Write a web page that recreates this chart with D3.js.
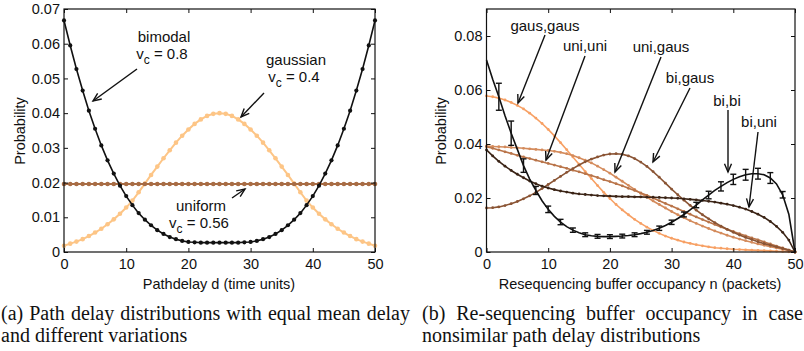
<!DOCTYPE html>
<html>
<head>
<meta charset="utf-8">
<script src="https://cdn.jsdelivr.net/npm/d3@7"></script>
<style>
body { margin: 0; background: #fff; }
svg text { font-family: "Liberation Sans", Arial, sans-serif; fill: #111; }
svg text.caption { font-family: "Liberation Serif", "Times New Roman", serif; }
</style>
</head>
<body>
<svg id="chart" width="804" height="351"></svg>
<script>
// ---- data, panel (a): path delay distributions ----
const delays = d3.range(0, 51);
const xTicksA = [0, 10, 20, 30, 40, 50];
const yTicksA = [0, 0.01, 0.02, 0.03, 0.04, 0.05, 0.06, 0.07];

const bimodal = [0.0667,0.0595,0.0527,0.0465,0.0407,0.0355,0.0307,0.0264,0.0226,0.0191,
	0.0161,0.0135,0.0112,0.0093,0.0077,0.0063,0.0052,0.0043,0.0037,0.0032,
	0.0029,0.0028,0.0027,0.0027,0.0027,0.0027,0.0027,0.0027,0.0027,0.0028,
	0.0029,0.0032,0.0037,0.0043,0.0052,0.0063,0.0077,0.0093,0.0112,0.0135,
	0.0161,0.0191,0.0226,0.0264,0.0307,0.0355,0.0407,0.0465,0.0527,0.0595,0.0667];
const gaussian = [0.0018,0.0024,0.0030,0.0037,0.0046,0.0056,0.0067,0.0080,0.0094,0.0110,
	0.0128,0.0148,0.0172,0.0197,0.0222,0.0246,0.0270,0.0293,0.0315,0.0335,
	0.0353,0.0369,0.0382,0.0392,0.0398,0.0400,0.0398,0.0392,0.0382,0.0369,
	0.0353,0.0335,0.0315,0.0293,0.0270,0.0246,0.0222,0.0197,0.0172,0.0148,
	0.0128,0.0110,0.0094,0.0080,0.0067,0.0056,0.0046,0.0037,0.0030,0.0024,0.0018];
const uniform = [0.0196,0.0196,0.0196,0.0196,0.0196,0.0196,0.0196,0.0196,0.0196,0.0196,
	0.0196,0.0196,0.0196,0.0196,0.0196,0.0196,0.0196,0.0196,0.0196,0.0196,
	0.0196,0.0196,0.0196,0.0196,0.0196,0.0196,0.0196,0.0196,0.0196,0.0196,
	0.0196,0.0196,0.0196,0.0196,0.0196,0.0196,0.0196,0.0196,0.0196,0.0196,
	0.0196,0.0196,0.0196,0.0196,0.0196,0.0196,0.0196,0.0196,0.0196,0.0196,0.0196];

// ---- data, panel (b): resequencing buffer occupancy ----
const occupancy = d3.range(0, 51);
const xTicksB = [0, 10, 20, 30, 40, 50];
const yTicksB = [0, 0.02, 0.04, 0.06, 0.08];

const gausGaus = [0.0578,0.0575,0.0570,0.0563,0.0554,0.0543,0.0530,0.0514,0.0496,0.0476,
	0.0454,0.0430,0.0405,0.0379,0.0352,0.0325,0.0298,0.0272,0.0246,0.0221,
	0.0198,0.0176,0.0156,0.0138,0.0121,0.0106,0.0092,0.0080,0.0069,0.0059,
	0.0051,0.0044,0.0037,0.0032,0.0027,0.0023,0.0019,0.0016,0.0014,0.0012,
	0.0010,0.0009,0.0008,0.0007,0.0006,0.0005,0.0004,0.0003,0.0002,0.0001,0];
const uniGaus = [0.0392,0.0391,0.0390,0.0389,0.0387,0.0386,0.0384,0.0382,0.0380,0.0378,
	0.0376,0.0373,0.0369,0.0364,0.0357,0.0349,0.0340,0.0330,0.0318,0.0305,
	0.0292,0.0277,0.0262,0.0247,0.0232,0.0217,0.0203,0.0189,0.0176,0.0163,
	0.0150,0.0138,0.0127,0.0116,0.0106,0.0096,0.0087,0.0078,0.0070,0.0062,
	0.0055,0.0048,0.0042,0.0036,0.0030,0.0025,0.0020,0.0015,0.0010,0.0005,0];
const uniUni = [0.0390,0.0384,0.0378,0.0371,0.0365,0.0358,0.0352,0.0346,0.0340,0.0334,
	0.0328,0.0322,0.0316,0.0310,0.0303,0.0297,0.0290,0.0283,0.0276,0.0268,
	0.0261,0.0253,0.0245,0.0236,0.0228,0.0219,0.0210,0.0200,0.0190,0.0180,
	0.0170,0.0160,0.0150,0.0140,0.0130,0.0120,0.0111,0.0102,0.0093,0.0084,
	0.0076,0.0068,0.0060,0.0052,0.0045,0.0037,0.0030,0.0022,0.0015,0.0007,0];
const biGaus = [0.0163,0.0164,0.0167,0.0172,0.0179,0.0187,0.0197,0.0208,0.0221,0.0235,
	0.0250,0.0265,0.0280,0.0295,0.0309,0.0322,0.0334,0.0344,0.0352,0.0359,
	0.0363,0.0364,0.0362,0.0356,0.0346,0.0333,0.0317,0.0298,0.0277,0.0255,
	0.0233,0.0212,0.0192,0.0173,0.0155,0.0138,0.0123,0.0109,0.0096,0.0084,
	0.0073,0.0063,0.0054,0.0046,0.0038,0.0031,0.0025,0.0019,0.0013,0.0007,0];
const biUni = [0.0378,0.0356,0.0336,0.0318,0.0302,0.0288,0.0275,0.0263,0.0253,0.0244,
	0.0237,0.0231,0.0226,0.0222,0.0218,0.0215,0.0213,0.0211,0.0209,0.0208,
	0.0207,0.0206,0.0205,0.0205,0.0204,0.0204,0.0203,0.0203,0.0202,0.0201,
	0.0200,0.0199,0.0197,0.0195,0.0193,0.0191,0.0188,0.0185,0.0181,0.0177,
	0.0172,0.0166,0.0159,0.0150,0.0140,0.0128,0.0113,0.0095,0.0073,0.0044,0];
const biBi = [0.0711,0.0640,0.0575,0.0505,0.0440,0.0380,0.0320,0.0270,0.0228,0.0190,
	0.0158,0.0132,0.0111,0.0094,0.0081,0.0071,0.0064,0.0060,0.0058,0.0057,
	0.0057,0.0058,0.0059,0.0061,0.0064,0.0068,0.0073,0.0080,0.0088,0.0098,
	0.0110,0.0124,0.0139,0.0156,0.0174,0.0193,0.0211,0.0228,0.0243,0.0257,
	0.0269,0.0279,0.0286,0.0290,0.0290,0.0286,0.0274,0.0252,0.0212,0.0140,0];
// simulated bi,bi points with error bar half-widths
const biBiSimN = [2,4,6,8,10,12,14,16,18,20,22,24,26,28,30,32,34,36,38,40,42,44,46,48];
const biBiSimMean = [0.0575,0.0440,0.0320,0.0228,0.0158,0.0111,0.0081,0.0064,0.0058,0.0057,
	0.0059,0.0064,0.0073,0.0088,0.0110,0.0139,0.0174,0.0211,0.0243,0.0269,0.0286,0.0290,0.0274,0.0212];
const biBiSimErr = [0.0050,0.0045,0.0025,0.0015,0.0012,0.0010,0.0008,0.0007,0.0007,0.0007,
	0.0007,0.0007,0.0007,0.0008,0.0008,0.0009,0.0010,0.0014,0.0017,0.0019,0.0020,0.0020,0.0020,0.0012];

const svg = d3.select("#chart");

function drawFrame(g, x, y, xTicks, yTicks) {
	const fmt = (d) => (d === 0 ? "0" : d.toFixed(2));
	const [x0, x1] = x.range();
	const [y0, y1] = y.range();

	g.append("g")
		.attr("transform", `translate(0,${y0})`)
		.call(d3.axisBottom(x).tickValues(xTicks).tickSizeInner(-4).tickSizeOuter(0).tickPadding(7))
		.call((a) => a.select(".domain").remove());
	g.append("g")
		.attr("transform", `translate(0,${y1})`)
		.call(d3.axisTop(x).tickValues(xTicks).tickSizeInner(-4).tickSizeOuter(0).tickFormat(""))
		.call((a) => a.select(".domain").remove());
	g.append("g")
		.attr("transform", `translate(${x0},0)`)
		.call(d3.axisLeft(y).tickValues(yTicks).tickSizeInner(-4).tickSizeOuter(0).tickPadding(4).tickFormat(fmt))
		.call((a) => a.select(".domain").remove());
	g.append("g")
		.attr("transform", `translate(${x1},0)`)
		.call(d3.axisRight(y).tickValues(yTicks).tickSizeInner(-4).tickSizeOuter(0).tickFormat(""))
		.call((a) => a.select(".domain").remove());

	g.selectAll(".tick line").attr("stroke", "#111").attr("stroke-width", 1);
	g.selectAll(".tick text")
		.attr("fill", "#111")
		.style("font-family", '"Liberation Sans", Arial, sans-serif')
		.style("font-size", "14.5px");

	g.append("rect")
		.attr("x", x0).attr("y", y1)
		.attr("width", x1 - x0).attr("height", y0 - y1)
		.attr("fill", "none").attr("stroke", "#111").attr("stroke-width", 1.2);
}

function drawSeries(g, x, y, xs, values, color, width, r) {
	const line = d3.line().x((d, i) => x(xs[i])).y((d) => y(d));
	g.append("path")
		.datum(values)
		.attr("d", line)
		.attr("fill", "none")
		.attr("stroke", color)
		.attr("stroke-width", width);
	if (r > 0) {
		g.append("g")
			.selectAll("circle")
			.data(values)
			.join("circle")
			.attr("cx", (d, i) => x(xs[i]))
			.attr("cy", (d) => y(d))
			.attr("r", r)
			.attr("fill", color);
	}
}

function arrow(g, x1, y1, x2, y2) {
	const ang = Math.atan2(y2 - y1, x2 - x1);
	const len = 9;
	const spread = 0.4;
	g.append("line")
		.attr("x1", x1).attr("y1", y1).attr("x2", x2).attr("y2", y2)
		.attr("stroke", "#111").attr("stroke-width", 1.4);
	g.append("path")
		.attr("d", `M${x2 - len * Math.cos(ang - spread)},${y2 - len * Math.sin(ang - spread)}` +
			`L${x2},${y2}L${x2 - len * Math.cos(ang + spread)},${y2 - len * Math.sin(ang + spread)}`)
		.attr("fill", "none").attr("stroke", "#111").attr("stroke-width", 1.4);
}

function label(g, x, y, text) {
	g.append("text")
		.attr("x", x).attr("y", y)
		.attr("text-anchor", "middle")
		.style("font-size", "15px")
		.text(text);
}

// v_c = value, with subscript c
function vcLabel(g, x, y, value) {
	const t = g.append("text")
		.attr("x", x).attr("y", y)
		.attr("text-anchor", "middle")
		.style("font-size", "15px");
	t.append("tspan").text("v");
	t.append("tspan").attr("dy", 5).style("font-size", "12px").text("c");
	t.append("tspan").attr("dy", -5).text(` = ${value}`);
}

// ---------------- panel (a) ----------------
const gA = svg.append("g");
const xA = d3.scaleLinear().domain([0, 50]).range([64, 375]);
const yA = d3.scaleLinear().domain([0, 0.07]).range([252, 9]);

drawSeries(gA, xA, yA, delays, gaussian, "#fdc586", 2, 2.3);
drawSeries(gA, xA, yA, delays, uniform, "#a86c44", 2, 2.3);
drawSeries(gA, xA, yA, delays, bimodal, "#111", 1.6, 2.1);
drawFrame(gA, xA, yA, xTicksA, yTicksA);

label(gA, 164, 42, "bimodal");
vcLabel(gA, 162, 59, "0.8");
arrow(gA, 137, 69, 93, 101);
label(gA, 296, 65, "gaussian");
vcLabel(gA, 294, 82, "0.4");
arrow(gA, 264, 93, 241, 117);
label(gA, 201, 211, "uniform");
vcLabel(gA, 199, 228, "0.56");
arrow(gA, 232, 198, 245, 189);

gA.append("text")
	.attr("transform", "translate(25,131) rotate(-90)")
	.attr("text-anchor", "middle")
	.style("font-size", "14.5px")
	.text("Probability");
gA.append("text")
	.attr("x", 219).attr("y", 289)
	.attr("text-anchor", "middle")
	.style("font-size", "14.5px")
	.text("Pathdelay d (time units)");

// ---------------- panel (b) ----------------
const gB = svg.append("g");
const xB = d3.scaleLinear().domain([0, 50]).range([486.5, 795]);
const yB = d3.scaleLinear().domain([0, 0.09]).range([252, 9]);

drawSeries(gB, xB, yB, occupancy, gausGaus, "#f7a064", 1.6, 1.4);
drawSeries(gB, xB, yB, occupancy, uniGaus, "#d48b5c", 1.6, 1.4);
drawSeries(gB, xB, yB, occupancy, uniUni, "#b97449", 1.6, 1.4);
drawSeries(gB, xB, yB, occupancy, biGaus, "#8a5434", 1.6, 1.4);
drawSeries(gB, xB, yB, occupancy, biUni, "#3b2416", 1.6, 1.4);
drawSeries(gB, xB, yB, occupancy, biBi, "#111", 1.6, 0);

// error bars of the simulated bi,bi case
const eb = gB.append("g").attr("stroke", "#111").attr("stroke-width", 1.4);
biBiSimN.forEach((n, i) => {
	const cx = xB(n);
	const lo = yB(biBiSimMean[i] - biBiSimErr[i]);
	const hi = yB(biBiSimMean[i] + biBiSimErr[i]);
	eb.append("line").attr("x1", cx).attr("x2", cx).attr("y1", lo).attr("y2", hi);
	eb.append("line").attr("x1", cx - 3).attr("x2", cx + 3).attr("y1", lo).attr("y2", lo);
	eb.append("line").attr("x1", cx - 3).attr("x2", cx + 3).attr("y1", hi).attr("y2", hi);
});

drawFrame(gB, xB, yB, xTicksB, yTicksB);

label(gB, 545, 31, "gaus,gaus");
arrow(gB, 545, 35, 518, 103);
label(gB, 585, 51, "uni,uni");
arrow(gB, 585, 56, 546, 160);
label(gB, 661, 52, "uni,gaus");
arrow(gB, 661, 57, 615, 172);
label(gB, 690, 83, "bi,gaus");
arrow(gB, 690, 88, 653, 162);
label(gB, 727, 106, "bi,bi");
arrow(gB, 728, 110, 728, 172);
label(gB, 759, 127, "bi,uni");
arrow(gB, 758, 132, 749, 207);

gB.append("text")
	.attr("transform", "translate(446,131) rotate(-90)")
	.attr("text-anchor", "middle")
	.style("font-size", "14.5px")
	.text("Probability");
gB.append("text")
	.attr("x", 640).attr("y", 289)
	.attr("text-anchor", "middle")
	.style("font-size", "14.5px")
	.text("Resequencing buffer occupancy n (packets)");

// ---------------- captions ----------------
// justified line: words spread between x0 and x1
function justified(x0, x1, y, words) {
	const g = svg.append("g");
	const nodes = words.map((w) =>
		g.append("text").attr("class", "caption").attr("y", y).style("font-size", "20px").text(w)
	);
	const widths = nodes.map((n) => n.node().getComputedTextLength());
	const gap = Math.max(4, (x1 - x0 - d3.sum(widths)) / (words.length - 1));
	let pos = x0;
	nodes.forEach((n, i) => {
		n.attr("x", pos);
		pos += widths[i] + gap;
	});
}

function plain(x, y, text) {
	svg.append("text").attr("class", "caption")
		.attr("x", x).attr("y", y)
		.style("font-size", "20px")
		.text(text);
}

justified(1, 410, 320, "(a) Path delay distributions with equal mean delay".split(" "));
plain(1, 342, "and different variations");
justified(422, 803, 320, "(b) Re-sequencing buffer occupancy in case".split(" "));
plain(422, 342, "nonsimilar path delay distributions");
</script>
</body>
</html>
